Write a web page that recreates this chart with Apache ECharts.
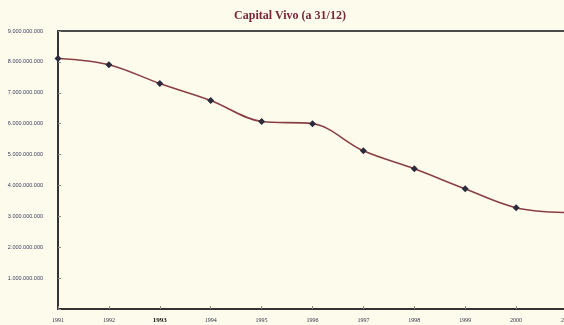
<!DOCTYPE html>
<html>
<head>
<meta charset="utf-8">
<script src="https://cdn.jsdelivr.net/npm/echarts@6/dist/echarts.min.js"></script>
<style>
  html, body { margin: 0; padding: 0; background: #fcfbec; }
  #chart { width: 564px; height: 325px; }
</style>
</head>
<body>
<div id="chart"></div>
<script>
// Capital vivo no fim de cada ano (31/12)
const years = ['1991', '1992', '1993', '1994', '1995', '1996', '1997', '1998', '1999', '2000', '2001'];
const capitalVivo = [8.11e9, 7.91e9, 7.30e9, 6.75e9, 6.07e9, 6.00e9, 5.12e9, 4.54e9, 3.89e9, 3.28e9, 3.12e9];
const yMin = 0;
const yMax = 9e9;
const yStep = 1e9;

function fmtPt(v) {
  return String(Math.round(v)).replace(/\B(?=(\d{3})+(?!\d))/g, '.');
}

const chart = echarts.init(document.getElementById('chart'), null, { renderer: 'canvas' });
chart.setOption({
  backgroundColor: '#fcfbec',
  animation: false,
  title: {
    text: 'Capital Vivo (a 31/12)',
    left: 285,
    textAlign: 'center',
    top: 5,
    textStyle: {
      fontFamily: 'Liberation Serif',
      fontWeight: 'bold',
      fontSize: 12,
      color: '#7a2639'
    }
  },
  grid: {
    left: 58,
    top: 31,
    bottom: 16,
    right: -3,
    containLabel: false,
    outerBoundsMode: 'none',
    show: true,
    borderColor: '#4a4a4a',
    borderWidth: 2,
    backgroundColor: 'transparent'
  },
  xAxis: {
    type: 'category',
    data: years,
    boundaryGap: false,
    axisLine: { show: true, lineStyle: { color: '#333333', width: 2 } },
    axisTick: { show: true, inside: true, length: 3, lineStyle: { color: '#888' } },
    axisLabel: {
      margin: 8,
      fontSize: 6,
      fontFamily: 'Liberation Serif',
      color: '#33334a',
      formatter: function (v) {
        return v === '1993' ? '{b|' + v + '}' : v;
      },
      rich: {
        b: { fontSize: 7, fontWeight: 'bold', color: '#111', fontFamily: 'Liberation Serif' }
      }
    },
    splitLine: { show: false }
  },
  yAxis: {
    type: 'value',
    min: yMin,
    max: yMax,
    interval: yStep,
    axisLine: { show: true, lineStyle: { color: '#333333', width: 2 } },
    axisTick: { show: true, inside: true, length: 3, lineStyle: { color: '#888' } },
    minorTick: { show: false },
    axisLabel: {
      margin: 15,
      fontSize: 5.5,
      fontFamily: 'Liberation Sans',
      color: '#3a3a5e',
      formatter: function (v) { return v === 0 ? '' : fmtPt(v); }
    },
    splitLine: { show: false }
  },
  series: [{
    type: 'line',
    data: capitalVivo,
    smooth: 0.35,
    symbol: 'diamond',
    symbolSize: 7,
    itemStyle: { color: '#2b2b3c' },
    lineStyle: { color: '#8a3f45', width: 1.6 },
    clip: false
  }]
});
</script>
</body>
</html>
